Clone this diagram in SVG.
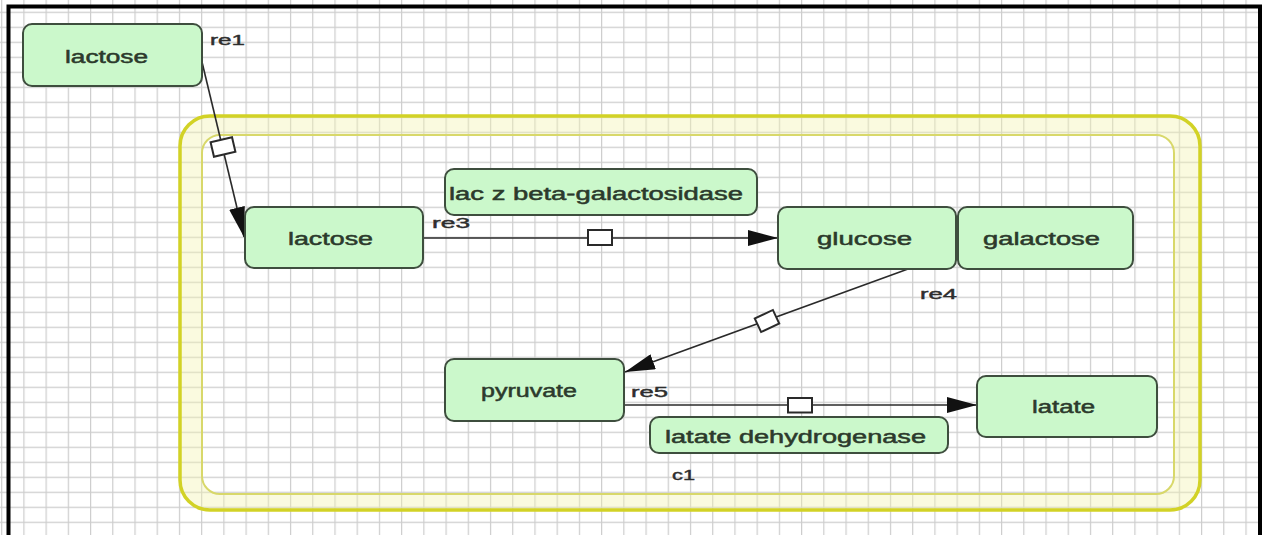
<svg xmlns="http://www.w3.org/2000/svg" width="1262" height="535" viewBox="0 0 1262 535">
<style>
.node rect{fill:#cbf8cb;stroke:#3e4e3e;stroke-width:2}
.node text{font-family:"Liberation Sans",Arial,sans-serif;font-size:18px;fill:#2c3a2c;stroke:#2c3a2c;stroke-width:0.5}
.lbl{font-family:"Liberation Sans",Arial,sans-serif;font-size:14px;fill:#2e2e2e;stroke:#2e2e2e;stroke-width:0.4}
.edge{stroke:#2a2a2a;stroke-width:1.6;fill:none}
.sq{fill:#fff;stroke:#2a2a2a;stroke-width:2}
</style>
<defs>
<marker id="arr" markerUnits="userSpaceOnUse" markerWidth="30" markerHeight="16" refX="30" refY="8" orient="auto">
<path d="M0,0 L30,8 L0,16 Z" fill="#111"/>
</marker>
<pattern id="gv" patternUnits="userSpaceOnUse" x="1.1" y="0" width="22.22" height="535">
<line x1="0.6" y1="0" x2="0.6" y2="535" stroke="#cdcdcd" stroke-width="1.2"/>
</pattern>
<pattern id="gh" patternUnits="userSpaceOnUse" x="0" y="11.7" width="1262" height="15">
<line x1="0" y1="0.6" x2="1262" y2="0.6" stroke="#cdcdcd" stroke-width="1.2"/>
</pattern>
</defs>
<rect width="1262" height="535" fill="#fff"/>
<rect width="1262" height="535" fill="url(#gv)"/>
<rect width="1262" height="535" fill="url(#gh)"/>
<path d="M8.5,535 V6.5 H1260 V535" fill="none" stroke="#000" stroke-width="4"/>

<g id="c1">
<path fill-rule="evenodd" fill="#f2f2b0" fill-opacity="0.4" d="M210,116 H1170 A30,30 0 0 1 1200,146 V480 A30,30 0 0 1 1170,510 H210 A30,30 0 0 1 180,480 V146 A30,30 0 0 1 210,116 Z M220,135 H1156 A18,18 0 0 1 1174,153 V476 A18,18 0 0 1 1156,494 H220 A18,18 0 0 1 202,476 V153 A18,18 0 0 1 220,135 Z"/>
<rect x="180" y="116" width="1020" height="394" rx="30" fill="none" stroke="#d2d226" stroke-width="3.5"/>
<rect x="202" y="135" width="972" height="359" rx="18" fill="none" stroke="#d8d86a" stroke-width="2"/>
<text class="lbl" x="672" y="480" textLength="23" lengthAdjust="spacingAndGlyphs">c1</text>
</g>

<g id="connectors">
<line class="edge" x1="202" y1="62" x2="244" y2="237" marker-end="url(#arr)"/>
<rect class="sq" x="-11" y="-7.5" width="22" height="15" transform="translate(223,147) rotate(-13)"/>
<text class="lbl" x="210" y="45" textLength="35" lengthAdjust="spacingAndGlyphs">re1</text>

<line class="edge" x1="423" y1="238" x2="778" y2="238" marker-end="url(#arr)"/>
<rect class="sq" x="588" y="230" width="24" height="15"/>
<text class="lbl" x="432" y="228" textLength="38" lengthAdjust="spacingAndGlyphs">re3</text>

<line class="edge" x1="908" y1="269" x2="625" y2="372" marker-end="url(#arr)"/>
<rect class="sq" x="-10" y="-7.5" width="20" height="15" transform="translate(767,321) rotate(-25)"/>
<text class="lbl" x="920" y="299" textLength="37" lengthAdjust="spacingAndGlyphs">re4</text>

<line class="edge" x1="624" y1="405" x2="977" y2="405" marker-end="url(#arr)"/>
<rect class="sq" x="788" y="398" width="24" height="14.5"/>
<text class="lbl" x="631" y="397" textLength="37" lengthAdjust="spacingAndGlyphs">re5</text>
</g>

<g id="lactose_out" class="node"><rect x="23" y="24" width="179" height="62" rx="9"/><text x="65" y="63" textLength="83" lengthAdjust="spacingAndGlyphs">lactose</text></g>
<g id="lactose_in" class="node"><rect x="245" y="207" width="178" height="61" rx="9"/><text x="288" y="245" textLength="85" lengthAdjust="spacingAndGlyphs">lactose</text></g>
<g id="lacz" class="node"><rect x="445" y="169" width="312" height="46" rx="9"/><text x="449" y="200" textLength="294" lengthAdjust="spacingAndGlyphs">lac z beta-galactosidase</text></g>
<g id="glucose" class="node"><rect x="778" y="207" width="178" height="62" rx="9"/><text x="817" y="245" textLength="95" lengthAdjust="spacingAndGlyphs">glucose</text></g>
<g id="galactose" class="node"><rect x="958" y="207" width="175" height="62" rx="9"/><text x="983" y="245" textLength="117" lengthAdjust="spacingAndGlyphs">galactose</text></g>
<g id="pyruvate" class="node"><rect x="445" y="359" width="179" height="62" rx="9"/><text x="481" y="397" textLength="96" lengthAdjust="spacingAndGlyphs">pyruvate</text></g>
<g id="ldh" class="node"><rect x="650" y="417" width="298" height="36" rx="9"/><text x="665" y="442.5" textLength="261" lengthAdjust="spacingAndGlyphs">latate dehydrogenase</text></g>
<g id="latate" class="node"><rect x="977" y="376" width="180" height="61" rx="9"/><text x="1032" y="412.5" textLength="63" lengthAdjust="spacingAndGlyphs">latate</text></g>
</svg>
